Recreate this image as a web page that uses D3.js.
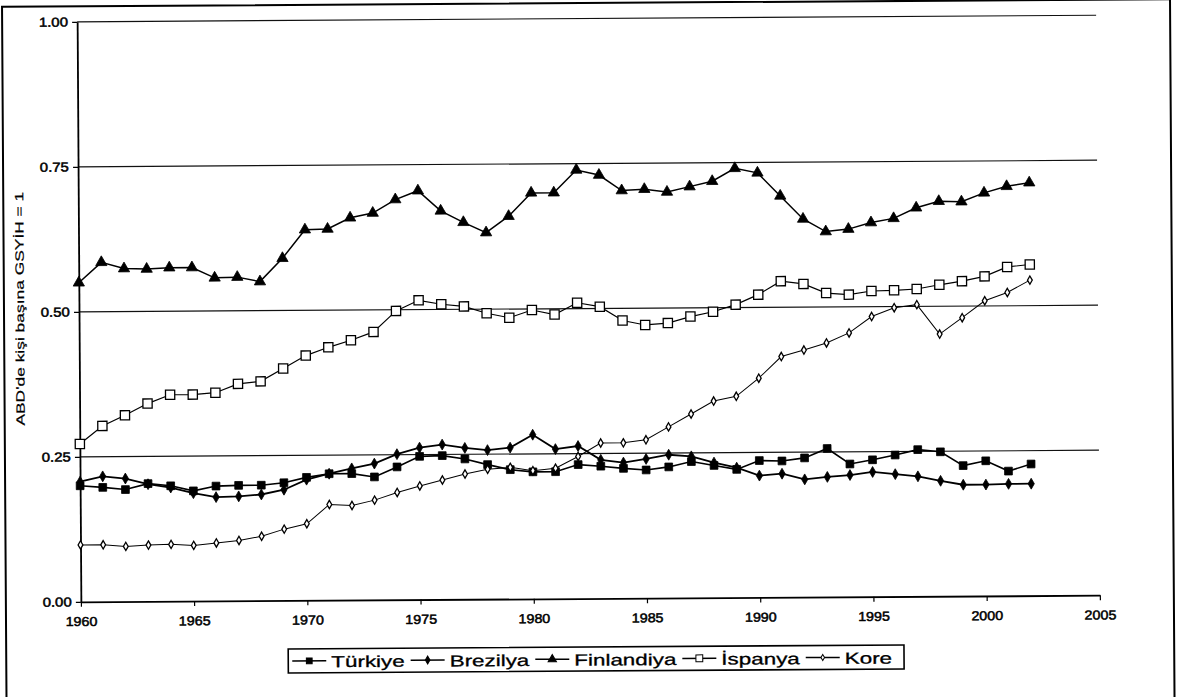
<!DOCTYPE html>
<html>
<head>
<meta charset="utf-8">
<script src="https://cdn.jsdelivr.net/npm/d3@7"></script>
<style>
  body { margin: 0; background: #fff; }
  svg { display: block; font-family: Arial, "Liberation Sans", sans-serif; }
</style>
</head>
<body>
<svg id="chart" width="1180" height="697"></svg>
<script>
// values (US GDP per capita = 1)
const years = [1960,1961,1962,1963,1964,1965,1966,1967,1968,1969,
               1970,1971,1972,1973,1974,1975,1976,1977,1978,1979,
               1980,1981,1982,1983,1984,1985,1986,1987,1988,1989,
               1990,1991,1992,1993,1994,1995,1996,1997,1998,1999,
               2000,2001,2002];
const turkiye = [0.200,0.197,0.193,0.203,0.199,0.190,0.198,0.199,0.199,0.203,
                 0.212,0.218,0.218,0.212,0.229,0.247,0.248,0.242,0.232,0.223,
                 0.219,0.219,0.231,0.228,0.224,0.221,0.226,0.235,0.228,0.221,
                 0.236,0.235,0.240,0.256,0.229,0.236,0.244,0.253,0.249,0.225,
                 0.233,0.215,0.227];
const brezilya = [0.207,0.216,0.212,0.202,0.196,0.186,0.179,0.180,0.183,0.191,
                  0.208,0.218,0.227,0.235,0.251,0.262,0.267,0.261,0.257,0.261,
                  0.283,0.258,0.263,0.239,0.234,0.240,0.247,0.244,0.233,0.224,
                  0.210,0.213,0.203,0.207,0.210,0.215,0.211,0.207,0.199,0.192,
                  0.192,0.193,0.193];
const finlandiya = [0.550,0.585,0.574,0.573,0.575,0.575,0.557,0.558,0.550,0.590,
                    0.639,0.640,0.659,0.667,0.690,0.705,0.670,0.650,0.632,0.660,
                    0.700,0.700,0.739,0.730,0.703,0.705,0.700,0.709,0.718,0.740,
                    0.732,0.692,0.652,0.630,0.634,0.645,0.652,0.670,0.681,0.680,
                    0.695,0.706,0.712];
const ispanya = [0.272,0.303,0.321,0.341,0.356,0.356,0.359,0.374,0.378,0.400,
                 0.422,0.436,0.448,0.462,0.498,0.516,0.509,0.505,0.493,0.485,
                 0.498,0.490,0.510,0.503,0.479,0.471,0.474,0.485,0.493,0.505,
                 0.522,0.545,0.540,0.524,0.521,0.527,0.528,0.530,0.537,0.543,
                 0.551,0.567,0.571];
const kore = [0.098,0.098,0.095,0.097,0.098,0.096,0.100,0.104,0.111,0.123,
              0.132,0.165,0.163,0.172,0.185,0.196,0.206,0.216,0.224,0.227,
              0.221,0.225,0.245,0.268,0.268,0.273,0.295,0.317,0.339,0.347,
              0.378,0.415,0.426,0.438,0.455,0.483,0.498,0.503,0.452,0.480,
              0.509,0.523,0.544];
const seriesNames = ["Türkiye", "Brezilya", "Finlandiya", "İspanya", "Kore"];
const yTicks = [0, 0.25, 0.5, 0.75, 1];
const xTicks = [1960,1965,1970,1975,1980,1985,1990,1995,2000,2005];
const yTitle = "ABD'de kişi başına GSYİH = 1";

// marker / line style per series
const styles = [
  { sym: d3.symbolSquare,   size: 60, fill: "#000", lw: 1.6 },
  { sym: d3.symbolDiamond,  size: 34, fill: "#000", lw: 1.8 },
  { sym: d3.symbolTriangle, size: 55, fill: "#000", lw: 1.5 },
  { sym: d3.symbolSquare,   size: 85, fill: "#fff", lw: 1.2 },
  { sym: d3.symbolDiamond,  size: 20, fill: "#fff", lw: 1.0 }
];
const allValues = [turkiye, brezilya, finlandiya, ispanya, kore];

const svg = d3.select("#chart");
// the scan is slightly tilted, so the whole drawing is turned a little
const g = svg.append("g").attr("transform", "rotate(-0.37, 590, 310)");

// outer frame of the figure
g.append("rect")
  .attr("x", 4).attr("y", 3).attr("width", 1168).attr("height", 730)
  .attr("fill", "none").attr("stroke", "#000").attr("stroke-width", 2);

const x = d3.scaleLinear().domain([1960, 2005]).range([79, 1098]);
const y = d3.scaleLinear().domain([0, 1]).range([598.5, 18.5]);

// horizontal gridlines
g.selectAll("line.grid")
  .data(yTicks.slice(1))
  .enter().append("line")
  .attr("class", "grid")
  .attr("x1", x(1960)).attr("x2", x(2005))
  .attr("y1", d => y(d)).attr("y2", d => y(d))
  .attr("stroke", "#111").attr("stroke-width", 1.2);

// left axis
const yAxis = g.append("g")
  .attr("transform", "translate(" + x(1960) + ",0)")
  .call(d3.axisLeft(y).tickValues(yTicks).tickFormat(d3.format(".2f")).tickSize(5).tickSizeOuter(0));
yAxis.select(".domain").attr("stroke-width", 1.8);
yAxis.selectAll(".tick line").attr("stroke-width", 1.2);
yAxis.selectAll("text")
  .attr("font-size", 13).attr("fill", "#000").attr("font-family", "Arial, 'Liberation Sans', sans-serif")
  .attr("stroke", "#000").attr("stroke-width", 0.5)
  .attr("x", -8)
  .attr("transform", "scale(1.15,1)");

// bottom axis
const xAxis = g.append("g")
  .attr("transform", "translate(0," + y(0) + ")")
  .call(d3.axisBottom(x).tickValues(xTicks).tickFormat(d3.format("d")).tickSize(5).tickSizeOuter(0));
xAxis.select(".domain").attr("stroke-width", 1.8);
xAxis.selectAll(".tick line").attr("stroke-width", 1.2);
xAxis.selectAll("text")
  .attr("font-size", 13).attr("fill", "#000").attr("font-family", "Arial, 'Liberation Sans', sans-serif")
  .attr("stroke", "#000").attr("stroke-width", 0.5)
  .attr("y", 15)
  .attr("transform", "scale(1.1,1)");

// y title
g.append("text")
  .attr("transform", "translate(24,305) rotate(-90) scale(1.45,1)")
  .attr("text-anchor", "middle")
  .attr("font-size", 12)
  .attr("stroke", "#000").attr("stroke-width", 0.2)
  .text(yTitle);

// series lines + markers
const line = d3.line()
  .x((d, i) => x(years[i]))
  .y(d => y(d));

allValues.forEach((vals, si) => {
  const st = styles[si];
  g.append("path")
    .datum(vals)
    .attr("d", line)
    .attr("fill", "none")
    .attr("stroke", "#000")
    .attr("stroke-width", st.lw);
  g.selectAll("path.m" + si)
    .data(vals)
    .enter().append("path")
    .attr("class", "m" + si)
    .attr("d", d3.symbol().type(st.sym).size(st.size))
    .attr("transform", (d, i) => "translate(" + x(years[i]) + "," + y(d) + ")")
    .attr("fill", st.fill)
    .attr("stroke", "#000")
    .attr("stroke-width", si >= 3 ? 1.3 : 0.8);
});

// legend
const lg = g.append("g");
const legBox = lg.append("rect")
  .attr("y", 647).attr("height", 24)
  .attr("fill", "#fff").attr("stroke", "#000").attr("stroke-width", 1.6);
let cx = 290;
const stretch = 1.4;
seriesNames.forEach((name, si) => {
  const st = styles[si];
  lg.append("line")
    .attr("x1", cx).attr("x2", cx + 34)
    .attr("y1", 659).attr("y2", 659)
    .attr("stroke", "#000").attr("stroke-width", 1.5);
  lg.append("path")
    .attr("d", d3.symbol().type(st.sym).size(st.size * 0.55))
    .attr("transform", "translate(" + (cx + 17) + ",659)")
    .attr("fill", st.fill).attr("stroke", "#000").attr("stroke-width", 1);
  const t = lg.append("text")
    .attr("transform", "translate(" + (cx + 39) + ",665.5) scale(" + stretch + ",1)")
    .attr("font-size", 16)
    .attr("stroke", "#000").attr("stroke-width", 0.3)
    .text(name);
  const w = t.node().getComputedTextLength() * stretch;
  cx += 39 + w + 6;
});
legBox.attr("x", 286).attr("width", cx - 286 + 6);
</script>
</body>
</html>
